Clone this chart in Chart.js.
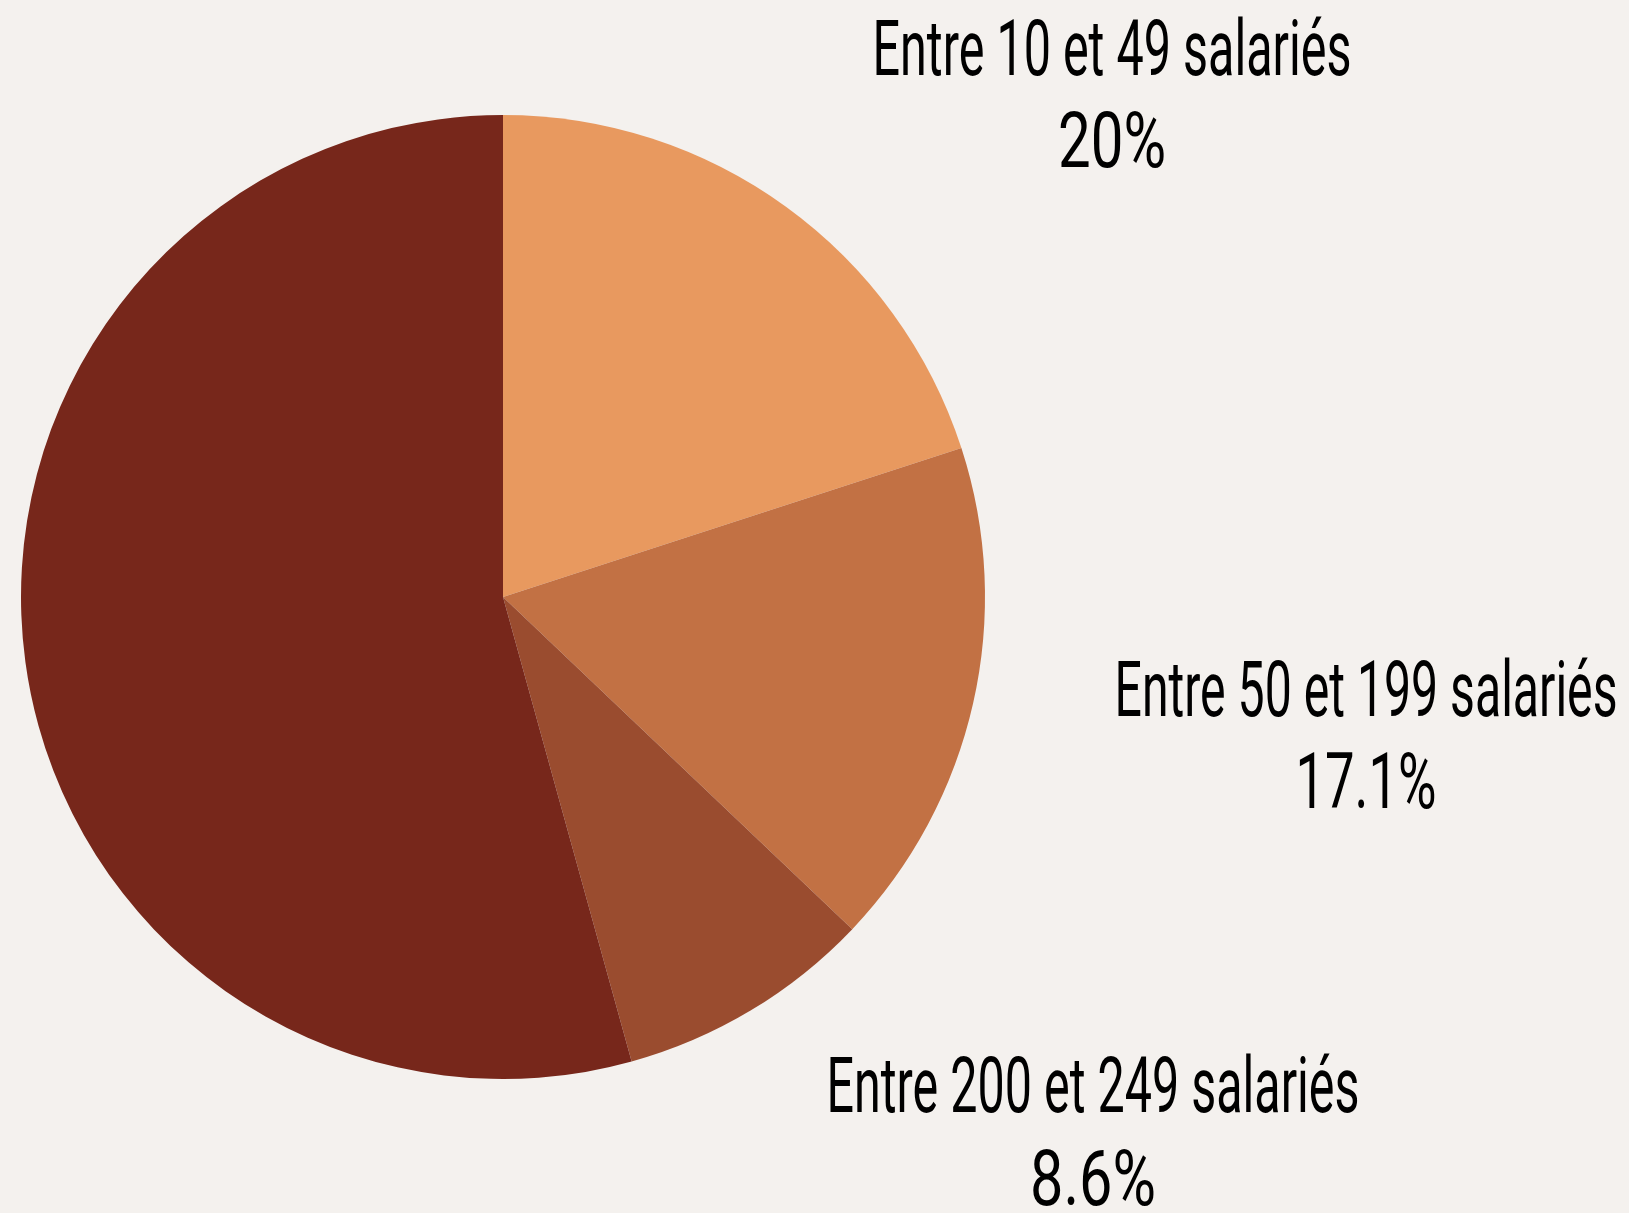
<!DOCTYPE html>
<html>
<head>
<meta charset="utf-8">
<script src="https://cdn.jsdelivr.net/npm/chart.js@4"></script>
<style>
  html, body { margin: 0; padding: 0; background: #f4f1ee; }
  #wrap { width: 1629px; height: 1213px; }
</style>
</head>
<body>
<div id="wrap"><canvas id="pieChart"></canvas></div>
<script>
const categories = ["Entre 10 et 49 salariés", "Entre 50 et 199 salariés", "Entre 200 et 249 salariés", "250 salariés et plus"];
const shares = [20, 17.1, 8.6, 54.3];
const shareLabels = ["20%", "17.1%", "8.6%", null];
const colors = ["#e8995f", "#c27144", "#9a4c2f", "#77271b"];

// label block: centre x, first baseline y, name width, percent width, percent baseline offset
// the big slice has no label
const labelSpots = [
  [1112, 75, 479, 108, 92],
  [1366, 716, 503, 141, 92],
  [1093, 1112, 533, 126, 93],
  null
];

const labelPlugin = {
  id: "sliceLabels",
  afterDraw(chart) {
    const ctx = chart.ctx;
    ctx.save();
    ctx.font = '77px Roboto, "Liberation Sans", sans-serif';
    ctx.fillStyle = "#000";
    ctx.textAlign = "center";
    ctx.textBaseline = "alphabetic";
    categories.forEach((name, i) => {
      const spot = labelSpots[i];
      if (!spot || !shareLabels[i]) return;
      // squeeze the text to get the tall condensed look
      const nameSqueeze = spot[2] / ctx.measureText(name).width;
      const pctSqueeze = spot[3] / ctx.measureText(shareLabels[i]).width;
      ctx.save();
      ctx.translate(spot[0], spot[1]);
      ctx.save();
      ctx.scale(nameSqueeze, 1);
      ctx.fillText(name, 0, 0);
      ctx.restore();
      ctx.scale(pctSqueeze, 1);
      ctx.fillText(shareLabels[i], 0, spot[4]);
      ctx.restore();
    });
    ctx.restore();
  }
};

new Chart(document.getElementById("pieChart"), {
  type: "pie",
  data: {
    labels: categories,
    datasets: [{ data: shares, backgroundColor: colors, borderWidth: 0 }]
  },
  options: {
    responsive: true,
    maintainAspectRatio: false,
    animation: false,
    layout: { padding: { left: 21, top: 115, right: 644, bottom: 134 } },
    plugins: {
      legend: { display: false },
      tooltip: { enabled: false }
    }
  },
  plugins: [labelPlugin]
});
</script>
</body>
</html>
